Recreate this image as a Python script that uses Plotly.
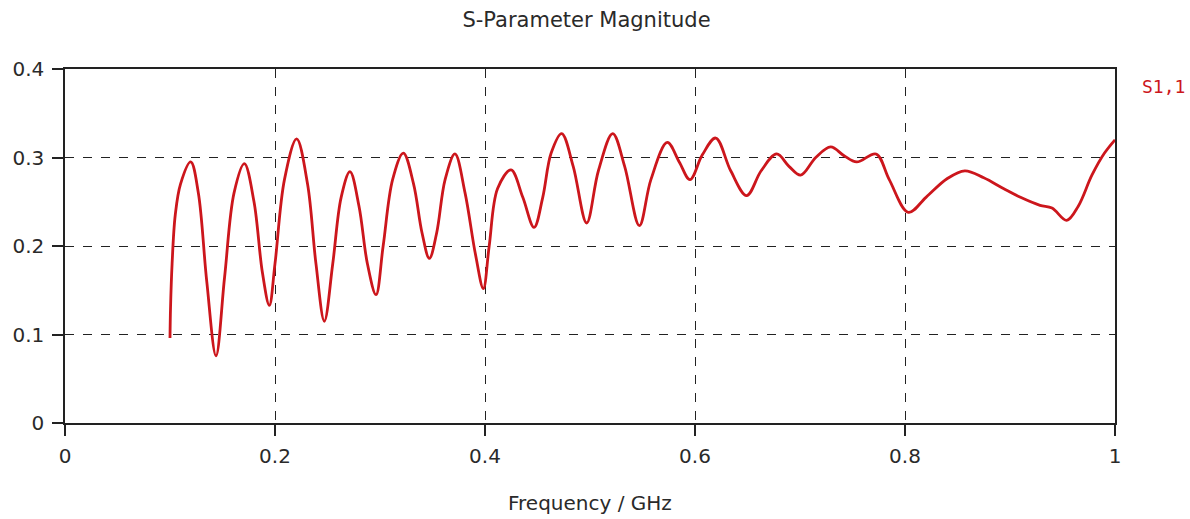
import plotly.graph_objects as go

freq_ghz = [0.100, 0.1005, 0.102, 0.105, 0.110, 0.1197, 0.127, 0.135, 0.1438, 0.152, 0.161,
            0.1708, 0.180, 0.188, 0.1946, 0.200, 0.209, 0.2206, 0.231, 0.239, 0.247,
            0.255, 0.263, 0.2714, 0.280, 0.288, 0.2962, 0.303, 0.312, 0.3222, 0.332,
            0.340, 0.347, 0.354, 0.362, 0.3714, 0.381, 0.391, 0.3984, 0.404, 0.412,
            0.4248, 0.436, 0.4467, 0.455, 0.463, 0.473, 0.484, 0.4968, 0.508, 0.5216,
            0.533, 0.547, 0.558, 0.5736, 0.585, 0.5952, 0.607, 0.6197, 0.634, 0.6492,
            0.663, 0.6778, 0.6895, 0.7006, 0.715, 0.7292, 0.742, 0.754, 0.7724, 0.785,
            0.8032, 0.820, 0.840, 0.857, 0.875, 0.8937, 0.910, 0.9286, 0.940, 0.954,
            0.965, 0.978, 0.990, 1.000]
s11_mag = [0.096, 0.130, 0.180, 0.235, 0.270, 0.295, 0.260, 0.160, 0.076, 0.165, 0.260,
           0.293, 0.250, 0.170, 0.133, 0.180, 0.275, 0.321, 0.270, 0.180, 0.115,
           0.180, 0.255, 0.284, 0.245, 0.180, 0.145, 0.200, 0.275, 0.305, 0.270,
           0.215, 0.186, 0.215, 0.275, 0.304, 0.260, 0.190, 0.152, 0.200, 0.265,
           0.286, 0.255, 0.221, 0.255, 0.305, 0.327, 0.290, 0.226, 0.285, 0.327,
           0.290, 0.223, 0.275, 0.317, 0.295, 0.275, 0.303, 0.322, 0.285, 0.257,
           0.285, 0.304, 0.290, 0.280, 0.300, 0.312, 0.302, 0.295, 0.304, 0.275,
           0.238, 0.255, 0.276, 0.285, 0.277, 0.265, 0.255, 0.246, 0.243, 0.229,
           0.245, 0.280, 0.305, 0.320]

x_ticks = [0, 0.2, 0.4, 0.6, 0.8, 1]
x_tick_text = ["0", "0.2", "0.4", "0.6", "0.8", "1"]
y_ticks = [0, 0.1, 0.2, 0.3, 0.4]
y_tick_text = ["0", "0.1", "0.2", "0.3", "0.4"]

series_name = "S1,1"
x_title = "Frequency / GHz"
line_color = "rgb(204,22,28)"
text_color = "#2a2a2a"

fig = go.Figure()
fig.add_trace(go.Scatter(
    x=freq_ghz, y=s11_mag, mode="lines", name=series_name,
    line=dict(color=line_color, width=2.8, shape="spline", smoothing=1.0),
    showlegend=False,
))

axis_common = dict(
    showline=True, linecolor="#222", linewidth=1.5, mirror=True,
    ticks="outside", ticklen=11, tickcolor="#222", tickwidth=1.5,
    showgrid=True, gridcolor="#222", gridwidth=1, griddash="dash",
    zeroline=False, automargin=False,
    tickfont=dict(family="DejaVu Sans", size=20, color=text_color),
)

fig.update_xaxes(range=[0, 1], tickvals=x_ticks, ticktext=x_tick_text,
                 ticklabelstandoff=3, **axis_common)
fig.update_yaxes(range=[0, 0.4], tickvals=y_ticks, ticktext=y_tick_text,
                 ticklabelstandoff=4, **axis_common)

fig.add_annotation(text=series_name, xref="paper", yref="paper",
                   x=1.024, y=0.95, xanchor="left", yanchor="middle",
                   showarrow=False,
                   font=dict(family="DejaVu Sans Mono", size=18, color=line_color))
fig.add_annotation(text=x_title, xref="paper", yref="paper",
                   x=0.5, y=-80 / 354, xanchor="center", yanchor="middle",
                   showarrow=False,
                   font=dict(family="DejaVu Sans", size=20, color=text_color))

fig.update_layout(
    width=1190, height=519,
    margin=dict(l=65, r=75, t=69, b=96),
    plot_bgcolor="white", paper_bgcolor="white",
    title=dict(text="S-Parameter Magnitude", x=586.5 / 1190, xanchor="center",
               y=1 - 20 / 519, yanchor="middle",
               font=dict(family="DejaVu Sans", size=21, color=text_color)),
)

fig.write_html("out.html", config={"displayModeBar": False},
               post_script="document.body.style.margin='0';document.body.style.overflow='hidden';")
